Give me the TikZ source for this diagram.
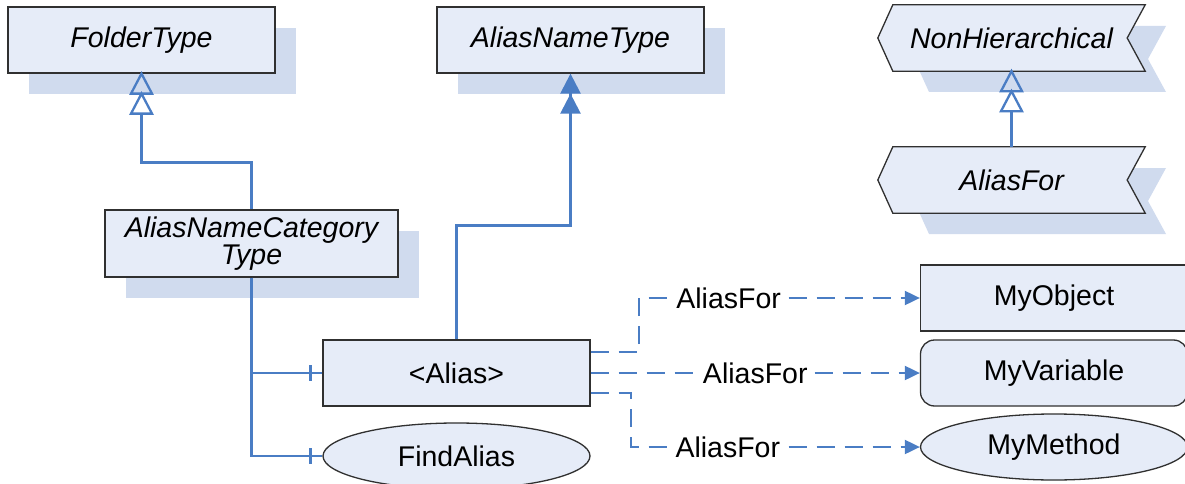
\documentclass[tikz,border=0pt]{standalone}
\usepackage{fontspec}
\setmainfont{Liberation Sans}
\usetikzlibrary{arrows.meta,shapes.geometric,shadows,calc}
\definecolor{boxfill}{HTML}{E6ECF8}
\definecolor{shadowcol}{HTML}{D0DBEE}
\definecolor{linkblue}{HTML}{4A7DC4}
\definecolor{bordercol}{HTML}{303030}
\tikzset{
  base/.style={fill=boxfill, draw=bordercol, line width=1.3pt, inner sep=0pt,
    font=\fontsize{28.5}{32}\selectfont, text=black},
  cls/.style={base, rectangle, minimum width=267pt, minimum height=66pt,
    font=\fontsize{28.5}{32}\selectfont\itshape,
    general shadow={shadow xshift=21pt, shadow yshift=-21pt, fill=shadowcol}},
  plainbox/.style={base, rectangle, minimum width=267pt, minimum height=66pt},
  roundbox/.style={base, rectangle, rounded corners=14pt, minimum width=267pt, minimum height=66pt},
  ellbox/.style={base, ellipse, minimum width=267pt, minimum height=66pt},
  chevtext/.style={rectangle, inner sep=0pt, minimum width=267pt, minimum height=66pt,
    font=\fontsize{28.5}{32}\selectfont\itshape},
  chevshape/.style={fill=boxfill, draw=bordercol, line width=1.3pt},
  chevshadow/.style={fill=shadowcol},
  opentip/.style={draw=linkblue, line width=2.3pt, line join=miter},
  real/.style={draw=linkblue, line width=2.5pt,
    -{Triangle[length=20pt,width=20pt]Triangle[length=20pt,width=20pt]}},
  link/.style={draw=linkblue, line width=2.5pt},
  tickmark/.style={draw=linkblue, line width=2.5pt},
  dsh/.style={draw=linkblue, line width=2pt, dash pattern=on 18pt off 10pt,
    -{Triangle[length=15pt,width=14pt]}},
  lbl/.style={fill=white, inner sep=4pt, font=\fontsize{28.5}{32}\selectfont, text=black}
}
\begin{document}
\begin{tikzpicture}[x=1pt,y=-1pt]
\useasboundingbox (0,0) rectangle (1185,484);

% chevron shadows
\path[chevshadow] (929,26) -- (1166,26) -- (1148,59) -- (1166,92) -- (929,92) -- (914,59) -- cycle;
\path[chevshadow] (929,168) -- (1166,168) -- (1148,201) -- (1166,234) -- (929,234) -- (914,201) -- cycle;

% class boxes with shadows
\node[cls] (folder) at (141.5,40) {FolderType};
\node[cls] (aname) at (570.5,40) {AliasNameType};
\node[cls, minimum width=293pt, minimum height=67pt, align=center] (acat) at (251.5,243.5) {AliasNameCategory\\[-5pt]Type};

% chevrons
\node[chevtext] (nh) at (1011.5,38) {};
\draw[chevshape] ([xshift=15pt]nh.north west) -- (nh.north east) -- ([xshift=-18pt]nh.east) -- (nh.south east) -- ([xshift=15pt]nh.south west) -- (nh.west) -- cycle;
\node[chevtext] at (nh.center) {NonHierarchical};
\node[chevtext] (af) at (1011.5,180) {};
\draw[chevshape] ([xshift=15pt]af.north west) -- (af.north east) -- ([xshift=-18pt]af.east) -- (af.south east) -- ([xshift=15pt]af.south west) -- (af.west) -- cycle;
\node[chevtext] at (af.center) {AliasFor};

% instances
\node[plainbox] (alias) at (456.5,373) {<Alias>};
\node[ellbox] (find) at (456.5,456) {FindAlias};
\node[plainbox] (obj) at (1054,298) {MyObject};
\node[roundbox] (var) at (1054,373) {MyVariable};
\node[ellbox] (meth) at (1054,447) {MyMethod};

% generalization connectors (double open triangles)
\draw[link] (acat.north) -- ++(0,-47) -| ([yshift=-40pt]folder.south);
\draw[opentip] (folder.south) -- ++(-10.5,20) -- ++(21,0) -- cycle;
\draw[opentip] ([yshift=-20pt]folder.south) -- ++(-10.5,20) -- ++(21,0) -- cycle;
\draw[link] (af.north) -- ([yshift=-40pt]nh.south);
\draw[opentip] (nh.south) -- ++(-10.5,20) -- ++(21,0) -- cycle;
\draw[opentip] ([yshift=-20pt]nh.south) -- ++(-10.5,20) -- ++(21,0) -- cycle;
\draw[real] (alias.north) -- ++(0,-114) -| (aname.south);

% category to instances
\draw[link] (acat.south) |- (alias.west);
\draw[link] (acat.south) |- (find.west);
\draw[tickmark] ([xshift=-12pt,yshift=8pt]alias.west) -- ([xshift=-12pt,yshift=-8pt]alias.west);
\draw[tickmark] ([xshift=-12pt,yshift=8pt]find.west) -- ([xshift=-12pt,yshift=-8pt]find.west);

% AliasFor references
\draw[dsh] ([yshift=21pt]alias.east) -- ++(48,0) |- node[lbl, pos=0.66] {AliasFor} (obj.west);
\draw[dsh] (alias.east) -- node[lbl, pos=0.5] {AliasFor} (var.west);
\draw[dsh] ([yshift=-20pt]alias.east) -- ++(40,0) |- node[lbl, pos=0.668] {AliasFor} (meth.west);
\end{tikzpicture}
\end{document}
